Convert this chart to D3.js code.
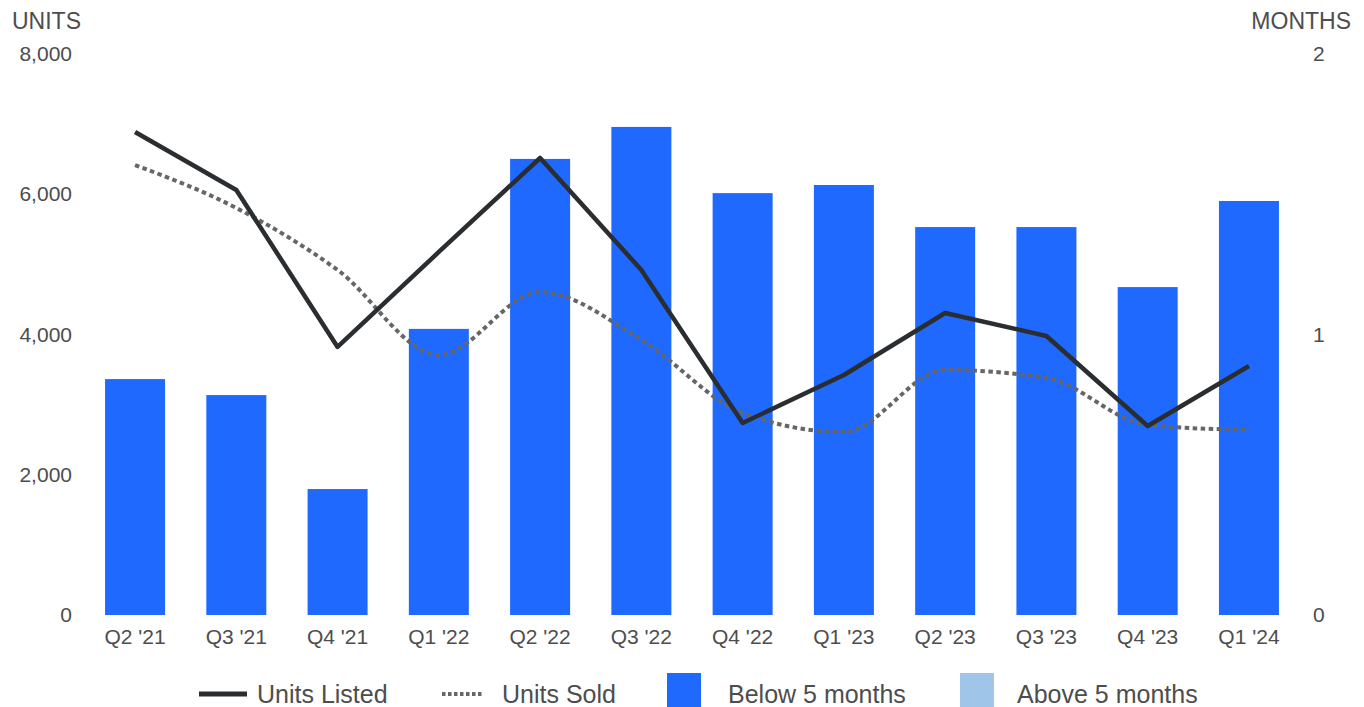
<!DOCTYPE html>
<html><head><meta charset="utf-8">
<script src="https://cdn.jsdelivr.net/npm/d3@7"></script>
<style>body{margin:0;background:#fff;}svg{display:block;font-family:"Liberation Sans",Arial,sans-serif;}</style>
</head><body><svg id="c" width="1364" height="707"></svg>
<script>
const categories = ["Q2 '21","Q3 '21","Q4 '21","Q1 '22","Q2 '22","Q3 '22","Q4 '22","Q1 '23","Q2 '23","Q3 '23","Q4 '23","Q1 '24"];
const unitsListed = [6888,6061,3822,5177,6517,4920,2738,3422,4307,3979,2695,3551];
const unitsSold = [6417,5804,4920,3708,4606,3922,2880,2610,3494,3380,2710,2638];
const monthsBelow5 = [0.841,0.784,0.449,1.020,1.626,1.740,1.504,1.533,1.383,1.383,1.169,1.476];
const leftTicks = [0,2000,4000,6000,8000];
const rightTicks = [0,1,2];
const legendItems = ["Units Listed","Units Sold","Below 5 months","Above 5 months"];

const svg = d3.select("#c");
const textColor = "#4d4d4d";
const ff = "Liberation Sans, Arial, sans-serif";
const x = d3.scaleBand().domain(categories).range([85,1299]).paddingInner(0.4075).paddingOuter(0.198);
const yL = d3.scaleLinear().domain([0,8000]).range([615,54]);
const yR = d3.scaleLinear().domain([0,2]).range([615,54]);

// bars
svg.append("g").selectAll("rect").data(monthsBelow5).join("rect")
  .attr("x",(d,i)=>x(categories[i])).attr("width",x.bandwidth())
  .attr("y",d=>yR(d)).attr("height",d=>yR(0)-yR(d)).attr("fill","#1f69ff");

// left axis
const axL = svg.append("g").attr("transform","translate(72,0)")
  .call(d3.axisLeft(yL).tickValues(leftTicks).tickSize(0).tickPadding(0).tickFormat(d3.format(",")));
axL.select(".domain").remove();
axL.selectAll("text").attr("font-size",21).attr("fill",textColor).attr("font-family",ff);

const axR = svg.append("g").attr("transform","translate(1313,0)")
  .call(d3.axisRight(yR).tickValues(rightTicks).tickSize(0).tickPadding(0).tickFormat(d3.format("d")));
axR.select(".domain").remove();
axR.selectAll("text").attr("font-size",21).attr("fill",textColor).attr("font-family",ff);

const axB = svg.append("g").attr("transform","translate(0,629)")
  .call(d3.axisBottom(x).tickSize(0).tickPadding(0));
axB.select(".domain").remove();
axB.selectAll("text").attr("font-size",21).attr("fill",textColor).attr("dy","0.71em").attr("font-family",ff);

// axis titles
svg.append("text").attr("x",12).attr("y",29).attr("font-size",23).attr("fill",textColor).text("UNITS");
svg.append("text").attr("x",1351).attr("y",29).attr("text-anchor","end").attr("font-size",23).attr("fill",textColor).text("MONTHS");

// lines
const cx = c => x(c) + x.bandwidth()/2;
svg.append("path").datum(unitsSold)
  .attr("d", d3.line().x((d,i)=>cx(categories[i])).y(d=>yL(d)).curve(d3.curveMonotoneX))
  .attr("fill","none").attr("stroke","#666").attr("stroke-width",4).attr("stroke-dasharray","4.5,3.5");
svg.append("path").datum(unitsListed)
  .attr("d", d3.line().x((d,i)=>cx(categories[i])).y(d=>yL(d)))
  .attr("fill","none").attr("stroke","#2b2e31").attr("stroke-width",4.5).attr("stroke-linejoin","round");

// legend
const lg = svg.append("g");
const ly = 694;
lg.append("line").attr("x1",199).attr("x2",247).attr("y1",ly).attr("y2",ly).attr("stroke","#2b2e31").attr("stroke-width",5);
lg.append("text").attr("x",257).attr("y",ly).attr("dy","0.35em").attr("font-size",25).attr("fill",textColor).text(legendItems[0]);
lg.append("line").attr("x1",442).attr("x2",482).attr("y1",ly).attr("y2",ly).attr("stroke","#666").attr("stroke-width",4).attr("stroke-dasharray","3.5,2.5");
lg.append("text").attr("x",502).attr("y",ly).attr("dy","0.35em").attr("font-size",25).attr("fill",textColor).text(legendItems[1]);
lg.append("rect").attr("x",667).attr("y",673).attr("width",34).attr("height",40).attr("fill","#1f69ff");
lg.append("text").attr("x",728).attr("y",ly).attr("dy","0.35em").attr("font-size",25).attr("fill",textColor).text(legendItems[2]);
lg.append("rect").attr("x",960).attr("y",673).attr("width",34).attr("height",40).attr("fill","#9fc5e8");
lg.append("text").attr("x",1017).attr("y",ly).attr("dy","0.35em").attr("font-size",25).attr("fill",textColor).text(legendItems[3]);
</script></body></html>
